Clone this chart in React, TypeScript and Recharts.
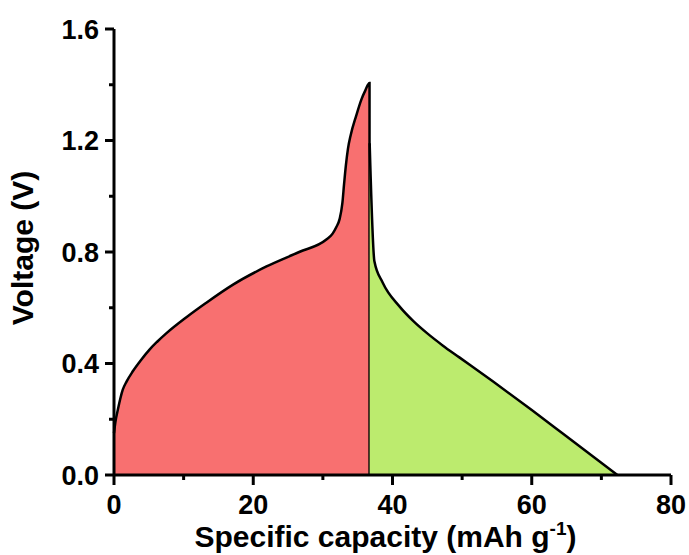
import React from "react";
import { AreaChart, Area, XAxis, YAxis } from "recharts";

// Charge curve (mAh g-1, V)
const chargeCapacity = [0, 0.2, 0.55, 1.26, 1.8, 2.7, 3.8, 5.1, 6.2, 7.5, 10.4, 13.2, 17.1, 21.9, 26.6, 30.5, 31.4, 31.9, 32.4, 32.8, 33.05, 33.3, 33.6, 34.0, 34.8, 35.5, 36.1, 36.7, 36.71];
const chargeVoltage = [0.15, 0.19, 0.234, 0.306, 0.335, 0.372, 0.41, 0.45, 0.478, 0.508, 0.566, 0.617, 0.683, 0.748, 0.8, 0.845, 0.866, 0.888, 0.918, 0.975, 1.045, 1.11, 1.17, 1.22, 1.29, 1.345, 1.38, 1.406, 0];

// Discharge curve
const dischargeCapacity = [36.72, 37.4, 38.6, 41.0, 43.0, 45.0, 47.2, 49.6, 54.4, 60, 64.5, 72.3];
const dischargeVoltage = [1.19, 0.767, 0.69, 0.605, 0.552, 0.508, 0.465, 0.422, 0.336, 0.233, 0.148, 0];

const xTicks = [0, 10, 20, 30, 40, 50, 60, 70, 80];
const xMajor = [0, 20, 40, 60, 80];
const xLabels = ["0", "20", "40", "60", "80"];
const yTicks = [0, 0.2, 0.4, 0.6, 0.8, 1.0, 1.2, 1.4, 1.6];
const yMajor = [0, 0.4, 0.8, 1.2, 1.6];
const yLabels = ["0.0", "0.4", "0.8", "1.2", "1.6"];

const data = [
  ...chargeCapacity.map((x, i) => ({ x, charge: chargeVoltage[i] })),
  ...dischargeCapacity.map((x, i) => ({ x, discharge: dischargeVoltage[i] })),
];

const FONT = "'Liberation Sans', Arial, sans-serif";

const XTick = (props: any) => {
  const { x, y, payload } = props;
  const idx = xMajor.findIndex((v) => Math.abs(v - payload.value) < 1e-6);
  const major = idx >= 0;
  return (
    <g>
      <line x1={x} x2={x} y1={y} y2={y + (major ? 10 : 5)} stroke="#000" strokeWidth={3} />
      {major && (
        <text x={x} y={y + 39} textAnchor="middle" fontFamily={FONT} fontWeight="bold" fontSize={27} fill="#000">
          {xLabels[idx]}
        </text>
      )}
    </g>
  );
};

const YTick = (props: any) => {
  const { x, y, payload } = props;
  const idx = yMajor.findIndex((v) => Math.abs(v - payload.value) < 1e-6);
  const major = idx >= 0;
  return (
    <g>
      <line x1={x - (major ? 9 : 5)} x2={x} y1={y} y2={y} stroke="#000" strokeWidth={3} />
      {major && (
        <text x={x - 15} y={y + 9.5} textAnchor="end" fontFamily={FONT} fontWeight="bold" fontSize={27} fill="#000">
          {yLabels[idx]}
        </text>
      )}
    </g>
  );
};

const XLabel = (props: any) => {
  const vb = props.viewBox || {};
  const cx = vb.x + vb.width / 2 - 7;
  return (
    <text x={cx} y={vb.y + 72} textAnchor="middle" fontFamily={FONT} fontWeight="bold" fontSize={30} fill="#000">
      Specific capacity (mAh g
      <tspan fontSize={19} dy={-12}>-1</tspan>
      <tspan dy={12}>)</tspan>
    </text>
  );
};

const YLabel = (props: any) => {
  const vb = props.viewBox || {};
  const cy = vb.y + vb.height / 2 - 4;
  const cx = 33;
  return (
    <text x={cx} y={cy} transform={`rotate(-90 ${cx} ${cy})`} textAnchor="middle" fontFamily={FONT} fontWeight="bold" fontSize={30} fill="#000">
      Voltage (V)
    </text>
  );
};

export default function App() {
  return (
    <div style={{ position: "absolute", left: 0, top: 0, width: 689, height: 555, background: "#fff" }}>
      <AreaChart width={689} height={555} data={data} margin={{ top: 29, right: 18, left: 0, bottom: 0 }}>
        <Area
          type="monotone"
          dataKey="charge"
          stroke="#000"
          strokeWidth={2.5}
          fill="#F87070"
          fillOpacity={1}
          isAnimationActive={false}
          dot={false}
          activeDot={false}
        />
        <Area
          type="monotone"
          dataKey="discharge"
          stroke="#000"
          strokeWidth={2.5}
          fill="#BCEB6E"
          fillOpacity={1}
          isAnimationActive={false}
          dot={false}
          activeDot={false}
        />
        <XAxis
          dataKey="x"
          type="number"
          domain={[0, 80]}
          ticks={xTicks}
          interval={0}
          height={80}
          tickSize={0}
          tickMargin={0}
          tickLine={false}
          tick={<XTick />}
          axisLine={{ stroke: "#000", strokeWidth: 3 }}
          label={<XLabel />}
        />
        <XAxis
          xAxisId="top"
          dataKey="x"
          type="number"
          domain={[0, 80]}
          orientation="top"
          height={0}
          tick={false}
          tickLine={false}
          axisLine={{ stroke: "#000", strokeWidth: 3 }}
        />
        <YAxis
          type="number"
          domain={[0, 1.6]}
          ticks={yTicks}
          interval={0}
          width={114}
          tickSize={0}
          tickMargin={0}
          tickLine={false}
          tick={<YTick />}
          axisLine={{ stroke: "#000", strokeWidth: 3 }}
          label={<YLabel />}
        />
        <YAxis
          yAxisId="right"
          orientation="right"
          type="number"
          domain={[0, 1.6]}
          width={0}
          tick={false}
          tickLine={false}
          axisLine={{ stroke: "#000", strokeWidth: 3 }}
        />
      </AreaChart>
    </div>
  );
}
